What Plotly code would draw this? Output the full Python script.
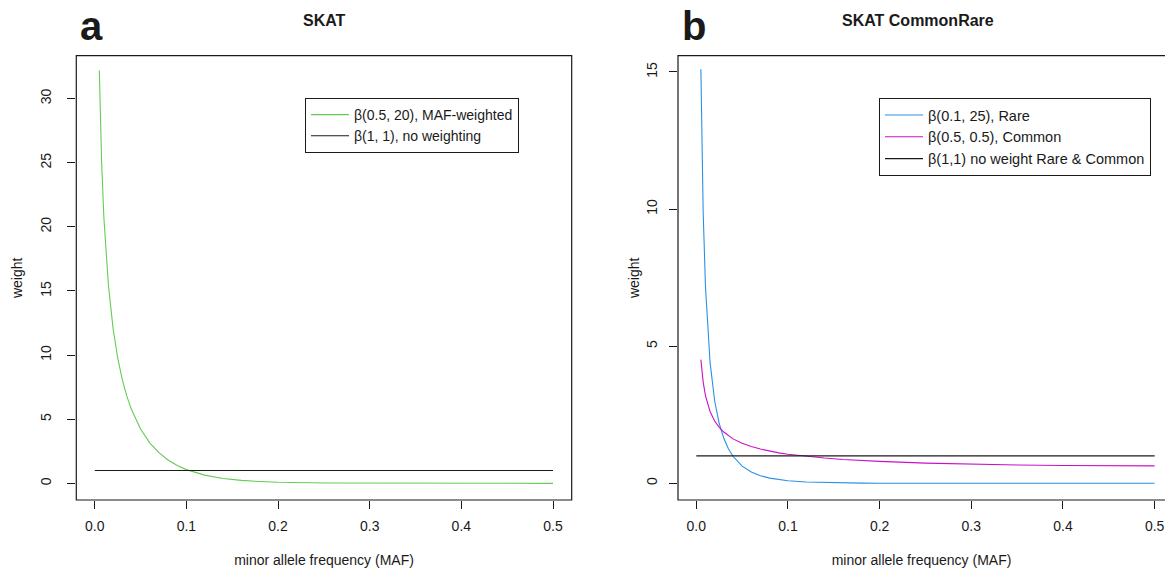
import plotly.graph_objects as go

# ---------------- data ----------------
maf = [0.005, 0.0075, 0.01, 0.0125, 0.015, 0.02, 0.025, 0.03, 0.035, 0.04,
       0.05, 0.06, 0.07, 0.08, 0.09, 0.1, 0.12, 0.14, 0.16, 0.18, 0.2,
       0.25, 0.3, 0.35, 0.4, 0.45, 0.5]

# panel a: beta(0.5, 20) MAF-weighted
skat_weight = [32.2, 25.1, 20.7, 17.7, 15.4, 12.1, 9.8, 8.1, 6.8, 5.77,
               4.23, 3.16, 2.39, 1.82, 1.39, 1.07, 0.64, 0.38, 0.23, 0.14, 0.08,
               0.02, 0.005, 0.001, 0.0003, 0.0001, 0.0]

# panel b: beta(0.1, 25) rare
rare_weight = [15.1, 9.88, 7.18, 5.53, 4.41, 3.01, 2.18, 1.64, 1.26, 0.985,
               0.626, 0.412, 0.278, 0.19, 0.131, 0.092, 0.045, 0.023, 0.012, 0.006, 0.003,
               0.0003, 0.0, 0.0, 0.0, 0.0, 0.0]

# panel b: beta(0.5, 0.5) common
common_weight = [4.51, 3.69, 3.2, 2.87, 2.62, 2.27, 2.04, 1.87, 1.73, 1.62,
                 1.46, 1.34, 1.25, 1.17, 1.11, 1.06, 0.98, 0.92, 0.87, 0.83, 0.80,
                 0.735, 0.695, 0.667, 0.65, 0.64, 0.637]

# beta(1, 1): no weighting
flat_x = [0.0, 0.5]
flat_w = [1.0, 1.0]

x_ticks = [0.0, 0.1, 0.2, 0.3, 0.4, 0.5]
x_tick_labels = ["0.0", "0.1", "0.2", "0.3", "0.4", "0.5"]
y_ticks_a = [0, 5, 10, 15, 20, 25, 30]
y_ticks_b = [0, 5, 10, 15]

legend_a = ["β(0.5, 20), MAF-weighted", "β(1, 1), no weighting"]
legend_b = ["β(0.1, 25), Rare", "β(0.5, 0.5), Common", "β(1,1) no weight Rare & Common"]

# ---------------- styling ----------------
W, H = 1165, 571
FONT = "Liberation Sans, Arial, Helvetica, sans-serif"
GREEN = "#62cd52"
BLUE = "#2a90e6"
MAGENTA = "#cc10c8"
BLACK = "#1a1a1a"

fig = go.Figure()

fig.add_trace(go.Scatter(x=maf, y=skat_weight, mode="lines", name=legend_a[0],
                         line=dict(color=GREEN, width=1.1), xaxis="x", yaxis="y",
                         legend="legend"))
fig.add_trace(go.Scatter(x=flat_x, y=flat_w, mode="lines", name=legend_a[1],
                         line=dict(color=BLACK, width=1.1), xaxis="x", yaxis="y",
                         legend="legend"))

fig.add_trace(go.Scatter(x=maf, y=rare_weight, mode="lines", name=legend_b[0],
                         line=dict(color=BLUE, width=1.1), xaxis="x2", yaxis="y2",
                         legend="legend2"))
fig.add_trace(go.Scatter(x=maf, y=common_weight, mode="lines", name=legend_b[1],
                         line=dict(color=MAGENTA, width=1.1), xaxis="x2", yaxis="y2",
                         legend="legend2"))
fig.add_trace(go.Scatter(x=flat_x, y=flat_w, mode="lines", name=legend_b[2],
                         line=dict(color=BLACK, width=1.1), xaxis="x2", yaxis="y2",
                         legend="legend2"))


def px_x(p):
    return p / W


def px_y(p):
    return 1 - p / H


box_top, box_bot = 55.7, 500.0
a_left, a_right = 76.3, 571.7
b_left, b_right = 678.0, 1173.4


def x_axis(**kw):
    d = dict(tickvals=x_ticks, ticktext=x_tick_labels, ticks="outside", ticklen=8,
             tickwidth=1, tickcolor=BLACK, showgrid=False, zeroline=False,
             showline=False, tickfont=dict(size=14, color=BLACK), ticklabelstandoff=5,
             title=dict(text="minor allele frequency (MAF)", font=dict(size=14, color=BLACK),
                        standoff=22),
             fixedrange=True)
    d.update(kw)
    return d


def y_axis(label_gap, title_gap, **kw):
    d = dict(ticks="outside", ticklen=8, tickwidth=1, tickcolor=BLACK,
             showgrid=False, zeroline=False, showline=False, tickangle=-90,
             tickfont=dict(size=14, color=BLACK), ticklabelstandoff=label_gap,
             title=dict(text="weight", font=dict(size=14, color=BLACK), standoff=title_gap),
             fixedrange=True)
    d.update(kw)
    return d


fig.update_layout(
    width=W, height=H,
    margin=dict(l=0, r=0, t=0, b=0),
    paper_bgcolor="white", plot_bgcolor="white",
    font=dict(family=FONT, color=BLACK),
    xaxis=x_axis(domain=[px_x(a_left), px_x(a_right)], range=[-0.0201, 0.5204], anchor="y"),
    yaxis=y_axis(11, 11, domain=[px_y(box_bot), px_y(box_top)], range=[-1.30, 33.35],
                 tickvals=y_ticks_a, anchor="x"),
    xaxis2=x_axis(domain=[px_x(b_left), 1.0], range=[-0.01997, 0.5113], anchor="y2"),
    yaxis2=y_axis(6, 1, domain=[px_y(box_bot), px_y(box_top)], range=[-0.609, 15.594],
                  tickvals=y_ticks_b, anchor="x2"),
    legend=dict(x=px_x(305), y=px_y(98), xanchor="left", yanchor="top",
                bordercolor=BLACK, borderwidth=1, bgcolor="white", itemwidth=38,
                font=dict(size=14, color=BLACK), tracegroupgap=0),
    legend2=dict(x=px_x(879), y=px_y(98), xanchor="left", yanchor="top",
                 bordercolor=BLACK, borderwidth=1, bgcolor="white", itemwidth=38,
                 font=dict(size=14.5, color=BLACK), tracegroupgap=0),
    showlegend=True,
)

# plot boxes (R style)
fig.add_shape(type="rect", xref="x domain", yref="y domain", x0=0, x1=1, y0=0, y1=1,
              line=dict(color=BLACK, width=1.2), layer="above")
fig.add_shape(type="rect", xref="x2 domain", yref="y2 domain", x0=0,
              x1=(b_right - b_left) / (W - b_left), y0=0, y1=1,
              line=dict(color=BLACK, width=1.2), layer="above")

# titles and panel letters
fig.add_annotation(text="<b>SKAT</b>", xref="paper", yref="paper",
                   x=px_x((a_left + a_right) / 2), y=px_y(20), showarrow=False,
                   font=dict(size=16, color=BLACK), xanchor="center", yanchor="middle")
fig.add_annotation(text="<b>SKAT CommonRare</b>", xref="paper", yref="paper",
                   x=px_x(918), y=px_y(20), showarrow=False,
                   font=dict(size=16, color=BLACK), xanchor="center", yanchor="middle")
fig.add_annotation(text="<b>a</b>", xref="paper", yref="paper",
                   x=px_x(78), y=px_y(26), showarrow=False,
                   font=dict(size=40, color=BLACK), xanchor="left", yanchor="middle")
fig.add_annotation(text="<b>b</b>", xref="paper", yref="paper",
                   x=px_x(680), y=px_y(26), showarrow=False,
                   font=dict(size=40, color=BLACK), xanchor="left", yanchor="middle")

fig.write_html("out.html",
               config={"displayModeBar": False},
               post_script="document.body.style.margin='0px';"
                           "document.body.style.overflow='hidden';")
